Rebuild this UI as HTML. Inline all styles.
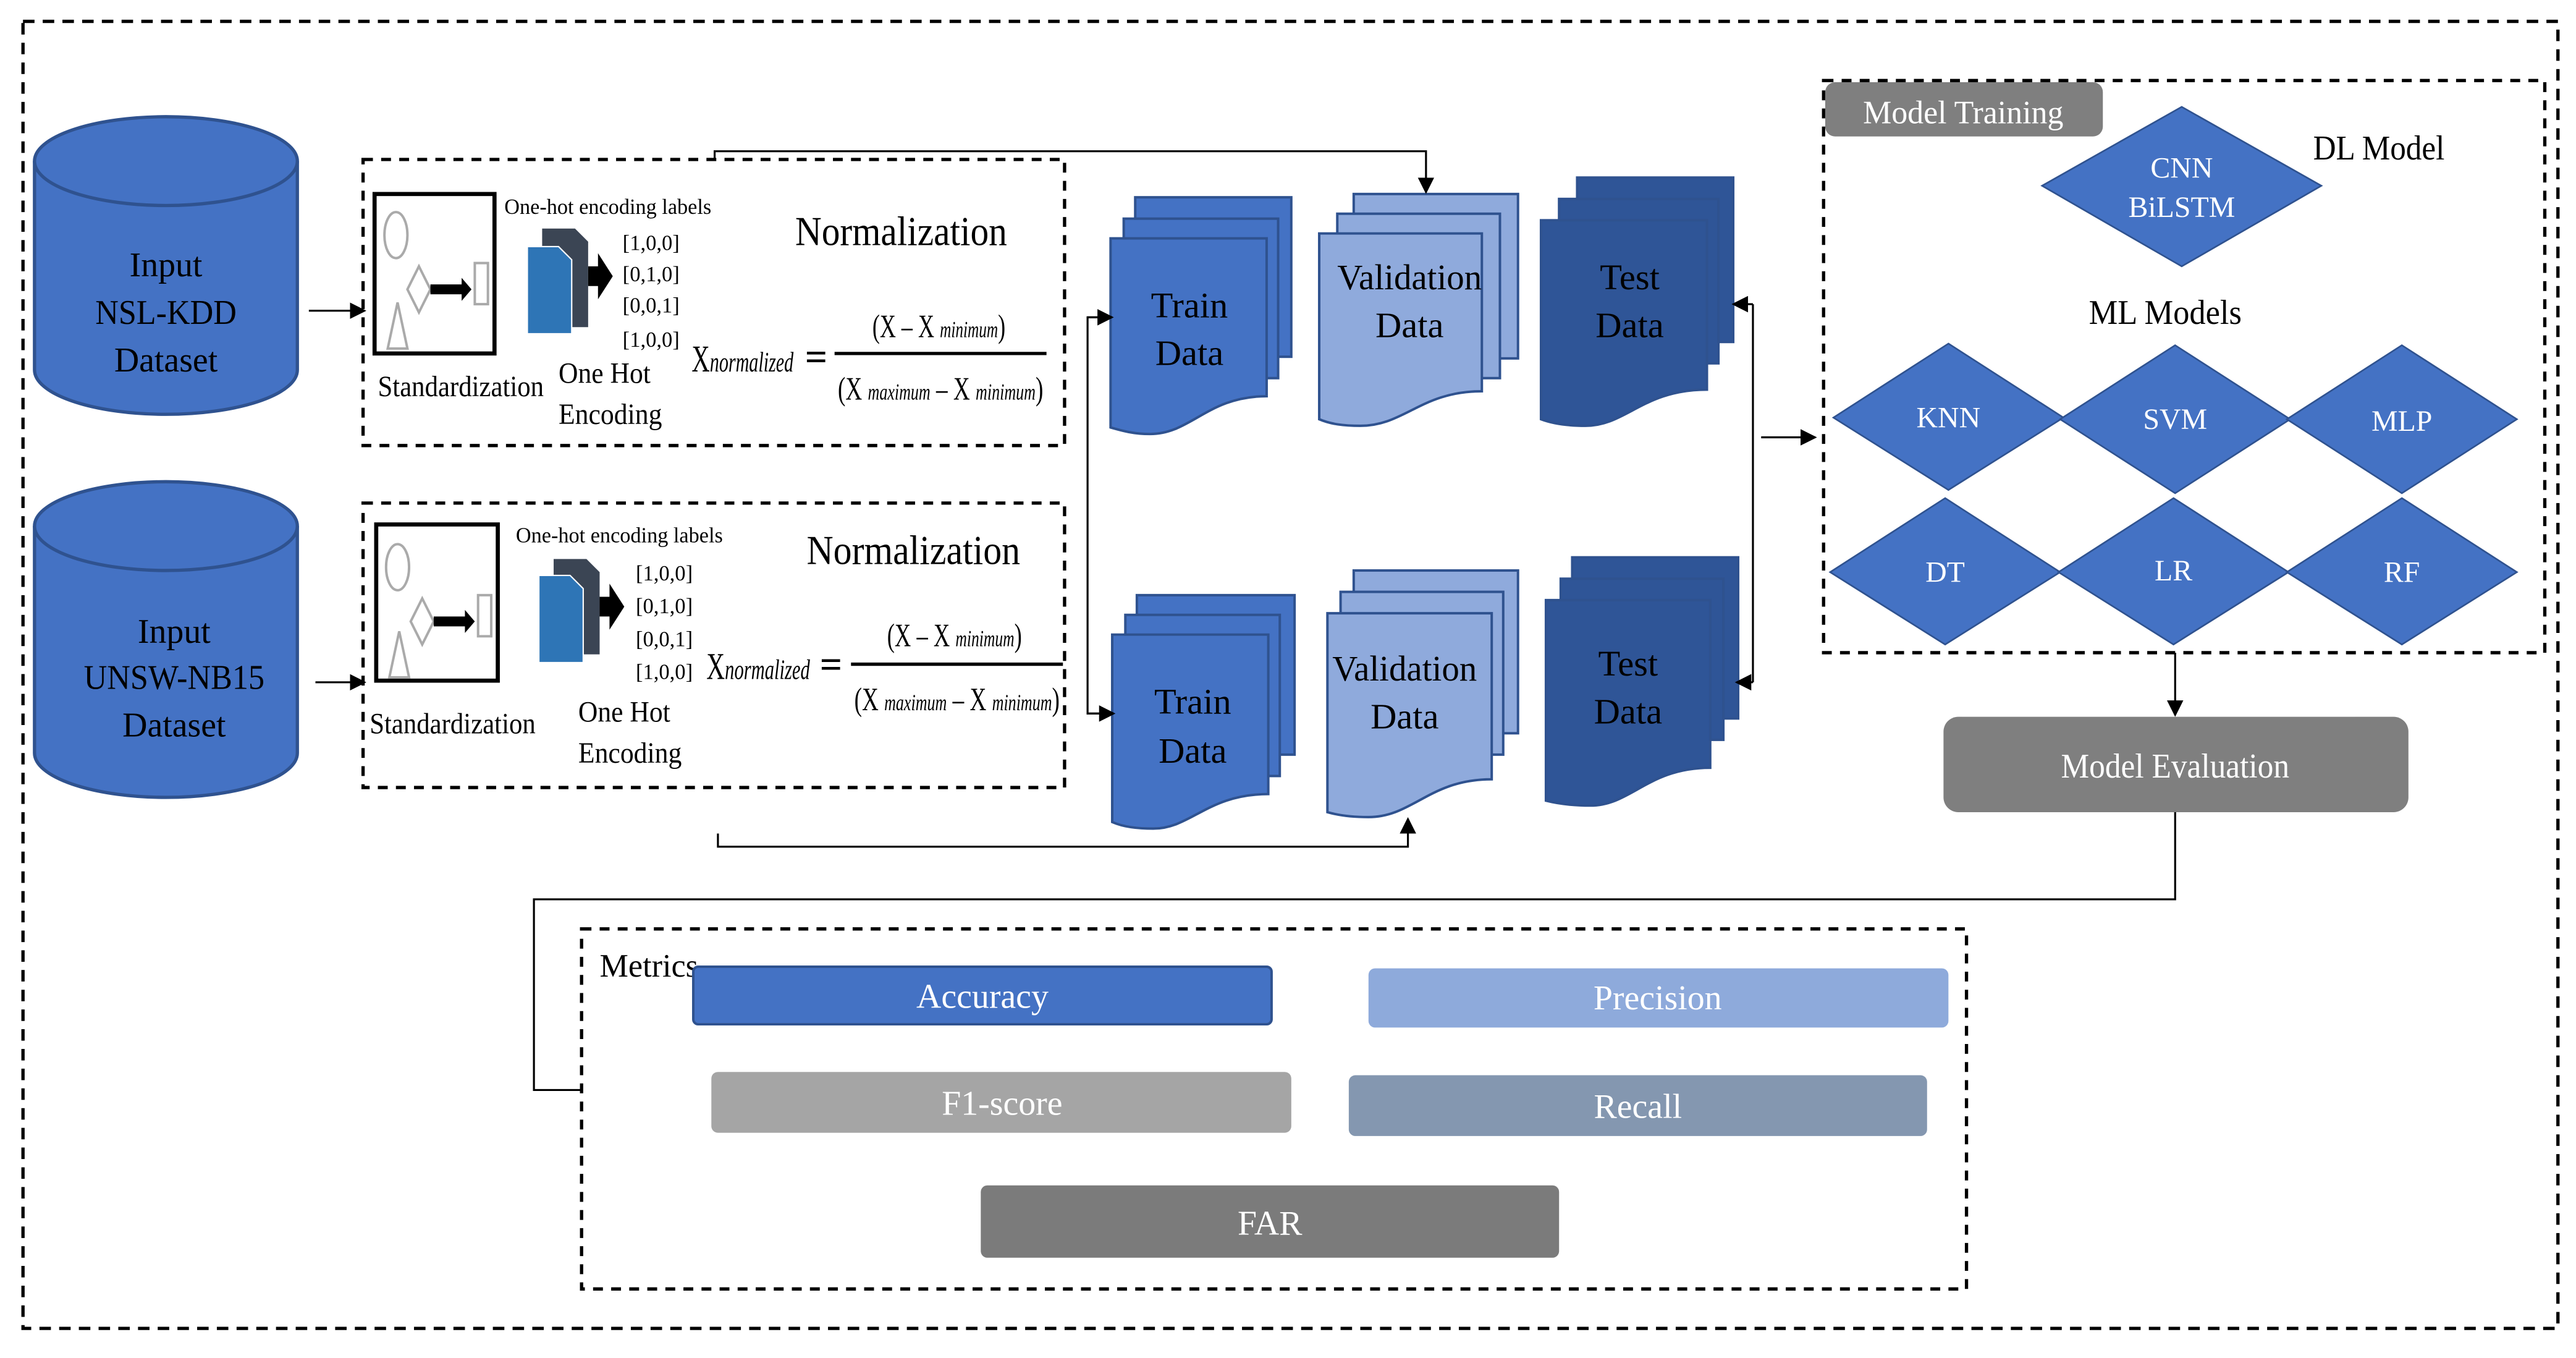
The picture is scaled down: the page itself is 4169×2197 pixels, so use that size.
<!DOCTYPE html>
<html><head><meta charset="utf-8"><style>
html,body{margin:0;padding:0;background:#fff;}
svg{display:block;}
text{font-family:"Liberation Serif",serif;}
</style></head><body>
<svg width="4169" height="2197" viewBox="0 0 1568 826" preserveAspectRatio="none" xmlns="http://www.w3.org/2000/svg">
<defs>
<marker id="ah" markerWidth="10" markerHeight="10" refX="9" refY="5" orient="auto" markerUnits="userSpaceOnUse">
<path d="M0,0 L10,5 L0,10 z" fill="#000"/>
</marker>
</defs>
<rect x="14" y="13" width="1543" height="795" fill="none" stroke="#000" stroke-width="2" stroke-dasharray="7,5"/>

<!-- cylinders -->
<g fill="#4472c4" stroke="#2f528f" stroke-width="2">
<path d="M21,98 V225 A80,27 0 0 0 181,225 V98"/>
<ellipse cx="101" cy="98" rx="80" ry="27"/>
<path d="M21,320 V458 A80,27 0 0 0 181,458 V320"/>
<ellipse cx="101" cy="320" rx="80" ry="27"/>
</g>
<g font-size="21" text-anchor="middle" fill="#000">
<text x="101" y="168">Input</text><text x="101" y="197" textLength="86" lengthAdjust="spacingAndGlyphs">NSL-KDD</text><text x="101" y="226">Dataset</text>
<text x="106" y="391">Input</text><text x="106" y="419" textLength="110" lengthAdjust="spacingAndGlyphs">UNSW-NB15</text><text x="106" y="448">Dataset</text>
</g>
<g stroke="#000" stroke-width="1.2" fill="none" marker-end="url(#ah)">
<line x1="188" y1="189" x2="222" y2="189"/>
<line x1="192" y1="415" x2="222" y2="415"/>
</g>

<!-- preprocessing boxes -->
<rect x="221" y="97" width="427" height="174" fill="none" stroke="#000" stroke-width="2" stroke-dasharray="6,5"/>
<rect x="221" y="306" width="427" height="173" fill="none" stroke="#000" stroke-width="2" stroke-dasharray="6,5"/>

<!-- icon 1 -->
<g>
<rect x="228" y="118" width="73" height="97" fill="#fff" stroke="#000" stroke-width="2.5"/>
<ellipse cx="241" cy="143" rx="7" ry="14" fill="none" stroke="#aaa" stroke-width="1.5"/>
<polygon points="255,162 262,176 255,190 248,176" fill="none" stroke="#aaa" stroke-width="1.5"/>
<polygon points="242,184 248,212 236,212" fill="none" stroke="#aaa" stroke-width="1.5"/>
<path d="M262,173 H281 V169 L287,176 L281,183 V179 H262 z" fill="#000"/>
<rect x="289" y="160" width="8" height="25" fill="none" stroke="#aaa" stroke-width="1.5"/>
<path d="M330,139 H350 L358,147 V199 H330 z" fill="#3b4554"/>
<path d="M321,150 H340 L348,158 V203 H321 z" fill="#2e75b6" stroke="#fff" stroke-width="0.8"/>
<polygon points="358,162 364,162 364,154 373,168 364,182 364,174 358,174" fill="#000"/>
</g>
<g font-size="13" fill="#000">
<text x="307" y="130" textLength="126" lengthAdjust="spacingAndGlyphs">One-hot encoding labels</text>
<text x="379" y="152">[1,0,0]</text><text x="379" y="171">[0,1,0]</text><text x="379" y="190">[0,0,1]</text><text x="379" y="211">[1,0,0]</text>
</g>
<g font-size="18" fill="#000">
<text x="230" y="241" textLength="101" lengthAdjust="spacingAndGlyphs">Standardization</text>
<text x="340" y="233" textLength="56" lengthAdjust="spacingAndGlyphs">One Hot</text><text x="340" y="258" textLength="63" lengthAdjust="spacingAndGlyphs">Encoding</text>
</g>
<text x="484" y="149" font-size="25" textLength="129" lengthAdjust="spacingAndGlyphs">Normalization</text>
<text x="421" y="226" font-size="23" textLength="62" lengthAdjust="spacingAndGlyphs">X<tspan font-size="17" font-style="italic">normalized</tspan></text>
<text x="490" y="225" font-size="24" font-weight="bold">=</text>
<line x1="508" y1="215" x2="637" y2="215" stroke="#000" stroke-width="2"/>
<text x="531" y="205" font-size="20" textLength="81" lengthAdjust="spacingAndGlyphs">(X – X <tspan font-size="14" font-style="italic">minimum</tspan>)</text>
<text x="510" y="243" font-size="20" textLength="125" lengthAdjust="spacingAndGlyphs">(X <tspan font-size="14" font-style="italic">maximum</tspan> – X <tspan font-size="14" font-style="italic">minimum</tspan>)</text>

<!-- icon 2 -->
<g>
<rect x="229" y="319" width="74" height="95" fill="#fff" stroke="#000" stroke-width="2.5"/>
<ellipse cx="242" cy="345" rx="7" ry="14" fill="none" stroke="#aaa" stroke-width="1.5"/>
<polygon points="257,364 264,378 257,392 250,378" fill="none" stroke="#aaa" stroke-width="1.5"/>
<polygon points="243,384 249,412 237,412" fill="none" stroke="#aaa" stroke-width="1.5"/>
<path d="M264,375 H283 V371 L289,378 L283,385 V381 H264 z" fill="#000"/>
<rect x="291" y="362" width="8" height="25" fill="none" stroke="#aaa" stroke-width="1.5"/>
<path d="M337,340 H357 L365,348 V398 H337 z" fill="#3b4554"/>
<path d="M328,350 H347 L355,358 V403 H328 z" fill="#2e75b6" stroke="#fff" stroke-width="0.8"/>
<polygon points="365,363 371,363 371,355 380,369 371,383 371,375 365,375" fill="#000"/>
</g>
<g font-size="13" fill="#000">
<text x="314" y="330" textLength="126" lengthAdjust="spacingAndGlyphs">One-hot encoding labels</text>
<text x="387" y="353">[1,0,0]</text><text x="387" y="373">[0,1,0]</text><text x="387" y="393">[0,0,1]</text><text x="387" y="413">[1,0,0]</text>
</g>
<g font-size="18" fill="#000">
<text x="225" y="446" textLength="101" lengthAdjust="spacingAndGlyphs">Standardization</text>
<text x="352" y="439" textLength="56" lengthAdjust="spacingAndGlyphs">One Hot</text><text x="352" y="464" textLength="63" lengthAdjust="spacingAndGlyphs">Encoding</text>
</g>
<text x="491" y="343" font-size="25" textLength="130" lengthAdjust="spacingAndGlyphs">Normalization</text>
<text x="430" y="413" font-size="23" textLength="63" lengthAdjust="spacingAndGlyphs">X<tspan font-size="17" font-style="italic">normalized</tspan></text>
<text x="499" y="412" font-size="24" font-weight="bold">=</text>
<line x1="518" y1="404" x2="647" y2="404" stroke="#000" stroke-width="2"/>
<text x="540" y="393" font-size="20" textLength="82" lengthAdjust="spacingAndGlyphs">(X – X <tspan font-size="14" font-style="italic">minimum</tspan>)</text>
<text x="520" y="432" font-size="20" textLength="125" lengthAdjust="spacingAndGlyphs">(X <tspan font-size="14" font-style="italic">maximum</tspan> – X <tspan font-size="14" font-style="italic">minimum</tspan>)</text>

<!-- data stacks -->
<g stroke="#2f528f" stroke-width="1.5">
<g fill="#4472c4">
<rect x="691" y="120" width="95" height="97"/>
<rect x="684" y="133" width="94" height="97"/>
<path d="M676,145 H771 V241 C735,241 725,264 700,264 C690,264 683,262 676,260 z"/>
</g>
<g fill="#8faadc">
<rect x="824" y="118" width="100" height="100"/>
<rect x="814" y="130" width="99" height="100"/>
<path d="M803,142 H902 V238 C865,238 855,259 828,259 C818,259 810,258 803,255 z"/>
</g>
<g fill="#2f5597">
<rect x="960" y="108" width="95" height="100"/>
<rect x="949" y="121" width="97" height="100"/>
<path d="M938,134 H1039 V237 C1000,237 990,259 965,259 C955,259 946,258 938,255 z"/>
</g>
<g fill="#4472c4">
<rect x="692" y="362" width="96" height="97"/>
<rect x="685" y="374" width="94" height="98"/>
<path d="M677,386 H772 V483 C735,483 725,504 702,504 C692,504 684,503 677,500 z"/>
</g>
<g fill="#8faadc">
<rect x="824" y="347" width="100" height="99"/>
<rect x="816" y="360" width="99" height="99"/>
<path d="M808,373 H908 V474 C870,474 860,497 833,497 C823,497 815,496 808,494 z"/>
</g>
<g fill="#2f5597">
<rect x="957" y="339" width="101" height="98"/>
<rect x="950" y="352" width="99" height="98"/>
<path d="M941,365 H1041 V467 C1003,467 993,490 968,490 C958,490 949,489 941,487 z"/>
</g>
</g>
<g font-size="22" text-anchor="middle" fill="#000">
<text x="724" y="193">Train</text><text x="724" y="222">Data</text>
<text x="858" y="176" textLength="88" lengthAdjust="spacingAndGlyphs">Validation</text><text x="858" y="205">Data</text>
<text x="992" y="176">Test</text><text x="992" y="205">Data</text>
<text x="726" y="434">Train</text><text x="726" y="464">Data</text>
<text x="855" y="414" textLength="88" lengthAdjust="spacingAndGlyphs">Validation</text><text x="855" y="443">Data</text>
<text x="991" y="411">Test</text><text x="991" y="440">Data</text>
</g>

<!-- connectors -->
<g stroke="#000" stroke-width="1.2" fill="none">
<polyline points="435,97 435,92 868,92 868,117" marker-end="url(#ah)"/>
<polyline points="437,507 437,515 857,515 857,498" marker-end="url(#ah)"/>
<polyline points="676,193 662,193 662,434 676,434"/>
<line x1="662" y1="193" x2="677" y2="193" marker-end="url(#ah)"/>
<line x1="662" y1="434" x2="678" y2="434" marker-end="url(#ah)"/>
<line x1="1067" y1="185" x2="1067" y2="415"/>
<line x1="1067" y1="185" x2="1055" y2="185" marker-end="url(#ah)"/>
<line x1="1067" y1="415" x2="1057" y2="415" marker-end="url(#ah)"/>
<line x1="1072" y1="266" x2="1105" y2="266" marker-end="url(#ah)"/>
<line x1="1324" y1="397" x2="1324" y2="435" marker-end="url(#ah)"/>
<polyline points="354,663 325,663 325,547 1324,547 1324,481" marker-end="url(#ah)"/>
</g>

<!-- model training -->
<rect x="1110" y="49" width="439" height="348" fill="none" stroke="#000" stroke-width="2" stroke-dasharray="6,5"/>
<rect x="1111" y="50" width="169" height="33" rx="6" fill="#7f7f7f"/>
<text x="1195" y="75" font-size="20" fill="#fff" text-anchor="middle" textLength="122" lengthAdjust="spacingAndGlyphs">Model Training</text>
<g fill="#4472c4" stroke="#2f528f" stroke-width="1">
<polygon points="1328,65 1413,113 1328,162 1243,113"/>
<polygon points="1186,209 1256,254 1186,298 1116,254"/>
<polygon points="1324,210 1394,255 1324,300 1254,255"/>
<polygon points="1462,210 1532,255 1462,300 1392,255"/>
<polygon points="1184,303 1254,348 1184,392 1114,348"/>
<polygon points="1323,303 1393,348 1323,392 1253,348"/>
<polygon points="1462,303 1532,348 1462,392 1392,348"/>
</g>
<g font-size="18" fill="#fff" text-anchor="middle">
<text x="1328" y="108">CNN</text><text x="1328" y="132">BiLSTM</text>
<text x="1186" y="260">KNN</text><text x="1324" y="261">SVM</text><text x="1462" y="262">MLP</text>
<text x="1184" y="354">DT</text><text x="1323" y="353">LR</text><text x="1462" y="354">RF</text>
</g>
<text x="1408" y="97" font-size="21" textLength="80" lengthAdjust="spacingAndGlyphs">DL Model</text>
<text x="1318" y="197" font-size="21" text-anchor="middle" textLength="93" lengthAdjust="spacingAndGlyphs">ML Models</text>

<rect x="1183" y="436" width="283" height="58" rx="9" fill="#7f7f7f"/>
<text x="1324" y="473" font-size="21" fill="#fff" text-anchor="middle" textLength="139" lengthAdjust="spacingAndGlyphs">Model Evaluation</text>

<!-- metrics -->
<rect x="354" y="565" width="843" height="219" fill="none" stroke="#000" stroke-width="2" stroke-dasharray="6,5"/>
<text x="365" y="594" font-size="20" textLength="60" lengthAdjust="spacingAndGlyphs">Metrics</text>
<rect x="422" y="588" width="352" height="35" rx="3" fill="#4472c4" stroke="#2f528f" stroke-width="1.5"/>
<rect x="833" y="589" width="353" height="36" rx="4" fill="#8eaadb"/>
<rect x="433" y="652" width="353" height="37" rx="4" fill="#a5a5a5"/>
<rect x="821" y="654" width="352" height="37" rx="4" fill="#8497b0"/>
<rect x="597" y="721" width="352" height="44" rx="4" fill="#7b7b7b"/>
<g font-size="21" fill="#fff" text-anchor="middle">
<text x="598" y="613">Accuracy</text>
<text x="1009" y="614">Precision</text>
<text x="610" y="678">F1-score</text>
<text x="997" y="680">Recall</text>
<text x="773" y="751">FAR</text>
</g>
</svg>
</body></html>
